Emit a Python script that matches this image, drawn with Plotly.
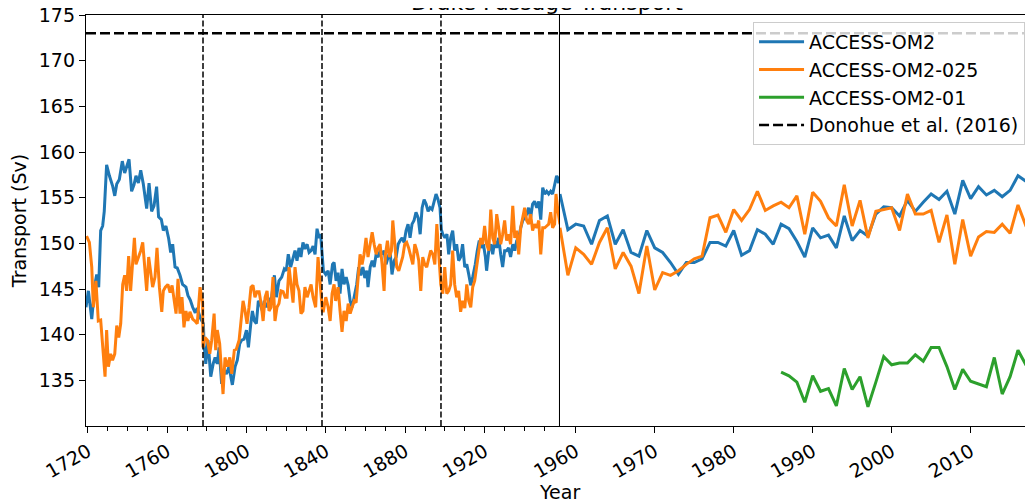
import plotly.graph_objects as go

# ---------------- data ----------------
# Spin-up cycles (4 x 60 yr), drawn on a compressed time axis (1719-1958)
om2_spin_years = [
    1719.0, 1720.2, 1721.9, 1723.5, 1724.4, 1725.4, 1726.4, 1727.4, 1728.2, 1729.4, 1730.8, 1732.4,
    1733.5, 1734.5, 1735.8, 1737.3, 1738.5, 1740.7, 1742.0, 1743.2, 1744.2, 1745.4, 1746.6, 1747.9,
    1749.6, 1750.8, 1752.1, 1753.3, 1754.6, 1755.6, 1757.0, 1758.0, 1759.3, 1760.7, 1761.7, 1762.7,
    1763.9, 1765.0, 1766.4, 1767.7, 1769.4, 1770.4, 1771.6, 1772.8, 1774.1, 1775.1, 1776.5, 1778.2,
    1778.5, 1779.4, 1780.5, 1781.9, 1783.1, 1784.1, 1785.2, 1786.1, 1787.4, 1788.6, 1789.8, 1791.1,
    1792.8, 1794.2, 1795.3, 1796.5, 1797.5, 1798.7, 1799.9, 1800.9, 1802.1, 1802.9, 1803.9, 1804.9,
    1805.9, 1806.9, 1807.9, 1808.9, 1810.0, 1811.3, 1812.6, 1814.0, 1815.0, 1816.3, 1817.7, 1819.0,
    1820.0, 1821.0, 1822.2, 1823.4, 1824.4, 1825.4, 1826.4, 1827.4, 1828.4, 1829.4, 1830.5, 1831.5,
    1832.5, 1833.5, 1834.5, 1835.5, 1836.5, 1837.3, 1838.2,
    1838.7, 1839.9, 1841.1, 1842.1, 1843.3, 1844.1, 1845.1, 1846.1, 1847.1, 1848.1, 1849.1, 1850.2,
    1851.2, 1852.2, 1853.2, 1854.2, 1855.5, 1856.5, 1857.5, 1858.6, 1859.6, 1860.6, 1861.2, 1862.3,
    1863.3, 1864.3, 1865.3, 1866.3, 1867.3, 1868.3, 1869.3, 1870.3, 1871.3, 1872.3, 1873.3, 1874.4,
    1875.4, 1876.4, 1877.4, 1878.4, 1879.4, 1880.4, 1881.4, 1882.4, 1883.4, 1884.4, 1885.4, 1886.5,
    1887.5, 1888.5, 1889.5, 1890.5, 1891.5, 1892.5, 1893.5, 1894.5, 1895.5, 1896.5, 1897.5, 1898.2,
    1898.9, 1900.0, 1901.0, 1901.9, 1902.9, 1903.9, 1904.9, 1905.9, 1906.9, 1907.9, 1908.9, 1910.0,
    1911.0, 1912.0, 1913.0, 1914.0, 1915.3, 1916.3, 1917.3, 1918.4, 1919.4, 1920.4, 1921.0, 1922.1,
    1923.1, 1924.1, 1925.1, 1926.1, 1927.1, 1928.1, 1929.1, 1930.1, 1931.1, 1932.1, 1933.1, 1934.2,
    1935.2, 1936.2, 1937.2, 1938.2, 1939.2, 1940.2, 1941.2, 1942.2, 1943.2, 1944.2, 1945.2, 1946.3,
    1947.3, 1948.3, 1949.3, 1950.3, 1951.3, 1952.3, 1953.3, 1954.3, 1955.3, 1956.3, 1957.3, 1958.0,
]
om2_spin_vals = [
    143.0, 144.8, 141.7, 145.5, 146.6, 145.2, 151.4, 151.9, 153.5, 158.6, 157.4, 156.3,
    155.2, 156.5, 157.0, 159.0, 157.7, 159.2, 155.7, 156.4, 157.4, 156.6, 158.0, 156.5,
    153.8, 156.6, 153.5, 154.1, 156.2, 152.9, 152.6, 151.4, 151.9, 150.5, 149.0, 149.9,
    147.4, 147.3, 146.5, 145.5, 145.2, 144.3, 143.8, 143.0, 142.4, 142.9, 141.9, 141.2,
    139.0, 136.8, 139.4, 135.4, 136.8, 137.5, 136.8, 138.6, 134.6, 136.1, 135.7, 136.5,
    134.5, 136.5, 137.2, 139.0, 139.4, 139.5, 140.5, 138.6, 141.2, 142.6, 141.5, 141.2,
    143.7, 143.4, 142.6, 143.7, 143.0, 143.7, 144.1, 146.5, 144.1, 145.9, 146.3, 147.2,
    147.0, 148.8, 147.4, 148.5, 149.2, 148.1, 149.5, 148.5, 150.1, 149.4, 149.9, 149.0,
    149.2, 149.7, 148.8, 151.6, 150.6, 151.0, 148.8,
    147.0, 146.6, 147.0, 145.5, 147.7, 147.9, 145.9, 146.8, 144.5, 147.2, 145.5, 146.3,
    145.4, 143.7, 143.0, 144.1, 145.5, 147.4, 146.5, 147.4, 146.2, 147.0, 145.2, 147.4,
    148.1, 147.4, 148.8, 148.5, 149.2, 148.8, 149.2, 147.7, 148.5, 149.2, 146.6, 148.1,
    148.5, 149.9, 150.3, 150.6, 150.1, 151.4, 152.1, 150.6, 152.1, 152.5, 153.4, 152.8,
    151.0, 153.9, 154.8, 154.3, 153.5, 153.9, 153.7, 154.6, 155.4, 154.8, 153.9, 151.5,
    151.0, 150.6, 151.0, 148.8, 150.6, 151.4, 149.2, 149.9, 148.1, 148.5, 149.9, 147.4,
    147.7, 146.6, 145.4, 146.3, 147.7, 149.2, 150.3, 149.5, 149.9, 148.5, 147.0, 149.2,
    149.9, 148.8, 150.3, 149.5, 150.6, 148.8, 147.4, 149.2, 149.2, 149.5, 148.5, 149.9,
    149.2, 150.3, 150.6, 151.7, 152.5, 152.8, 153.2, 153.9, 152.8, 154.3, 154.6, 153.9,
    154.6, 152.6, 156.1, 155.4, 155.7, 155.4, 155.7, 155.4, 156.3, 157.4, 156.6, 157.3,
]

om2025_spin_years = [
    1719.3, 1720.7, 1721.9, 1722.7, 1724.0, 1725.2, 1726.4, 1727.4, 1728.6, 1729.4, 1730.3, 1731.4,
    1732.4, 1733.5, 1734.5, 1735.5, 1736.5, 1737.5, 1738.5, 1739.5, 1740.5, 1741.5, 1742.5, 1743.4,
    1744.2, 1745.6, 1746.6, 1747.6, 1748.7, 1749.6, 1750.6, 1751.6, 1752.6, 1753.8, 1754.8, 1756.0,
    1757.2, 1758.0, 1759.0, 1760.3, 1761.4, 1762.4, 1763.4, 1764.4, 1765.4, 1766.4, 1767.4, 1768.4,
    1769.4, 1770.4, 1771.4, 1772.8, 1774.0, 1775.1, 1776.5, 1777.8,
    1778.0, 1779.0, 1780.2, 1781.4, 1782.4, 1783.6, 1784.4, 1785.2, 1786.4, 1787.4, 1788.1, 1789.1,
    1790.3, 1791.5, 1792.5, 1793.8, 1794.8, 1796.2, 1797.2, 1798.2, 1799.2, 1800.2, 1801.2, 1802.2,
    1803.2, 1804.2, 1805.2, 1806.3, 1807.3, 1808.3, 1809.3, 1810.3, 1811.3, 1812.3, 1813.3, 1814.3,
    1815.3, 1816.3, 1817.3, 1818.4, 1819.4, 1820.4, 1821.4, 1822.4, 1823.4, 1824.4, 1825.4, 1826.4,
    1827.4, 1828.4, 1829.4, 1830.5, 1831.5, 1832.5, 1833.5, 1834.8, 1836.0, 1837.0, 1838.2,
    1838.7, 1839.9, 1841.1, 1842.1, 1843.1, 1844.1, 1844.9, 1846.1, 1847.1, 1848.1, 1849.1, 1850.2,
    1851.2, 1852.2, 1853.2, 1854.2, 1855.2, 1856.2, 1857.2, 1858.2, 1859.2, 1860.2, 1861.2, 1862.3,
    1863.3, 1864.3, 1865.3, 1866.3, 1867.3, 1868.3, 1869.3, 1870.0, 1871.0, 1872.0, 1873.0, 1873.7,
    1874.7, 1875.7, 1876.7, 1877.7, 1878.7, 1879.7, 1880.7, 1881.7, 1882.8, 1883.8, 1884.8, 1885.8,
    1886.8, 1887.8, 1888.8, 1889.8, 1890.8, 1891.8, 1892.8, 1893.9, 1894.9, 1895.9, 1896.9, 1897.9,
    1898.9, 1899.9, 1900.9, 1901.9, 1902.9, 1903.9, 1904.9, 1905.9, 1906.9, 1907.9, 1908.9, 1910.0,
    1911.0, 1912.0, 1913.0, 1914.0, 1915.0, 1916.0, 1917.0, 1918.0, 1919.0, 1920.0, 1921.0, 1922.1,
    1923.1, 1924.1, 1925.1, 1926.1, 1927.1, 1928.1, 1929.1, 1930.1, 1931.1, 1932.1, 1933.1, 1934.2,
    1935.2, 1936.2, 1937.2, 1938.2, 1939.2, 1940.2, 1941.2, 1942.2, 1943.2, 1944.2, 1945.2, 1946.3,
    1947.3, 1948.3, 1949.3, 1950.3, 1951.3, 1952.3, 1953.3, 1954.3, 1955.3, 1956.0, 1957.0, 1958.0,
]
om2025_spin_vals = [
    150.8, 150.1, 147.4, 143.0, 145.9, 141.5, 141.6, 139.0, 135.4, 140.5, 136.5, 137.9,
    137.2, 137.9, 141.0, 139.7, 141.2, 145.5, 146.5, 144.8, 148.6, 144.8, 148.5, 150.6,
    147.7, 148.5, 149.2, 150.1, 147.4, 144.8, 148.5, 146.6, 145.2, 146.3, 149.5, 145.2,
    142.5, 144.8, 145.2, 145.5, 144.6, 145.4, 144.1, 142.3, 146.1, 142.3, 144.1, 140.8,
    142.6, 141.5, 142.5, 141.7, 141.5, 141.2, 145.2, 143.5,
    138.6, 139.7, 139.4, 137.9, 139.4, 142.3, 138.3, 140.5, 139.0, 136.1, 133.5, 137.5,
    136.5, 137.5, 135.7, 138.3, 138.4, 139.4, 141.9, 143.7, 142.6, 141.2, 143.0, 145.2,
    145.4, 144.1, 144.7, 144.7, 143.4, 141.5, 144.1, 144.8, 142.6, 143.0, 146.3, 141.5,
    143.0, 143.4, 144.8, 144.7, 144.1, 144.1, 147.4, 145.5, 143.5, 147.4, 145.5, 144.8,
    142.3, 142.6, 145.2, 144.1, 144.7, 145.5, 144.1, 143.0, 148.5, 145.5, 142.6,
    142.6, 144.1, 143.0, 141.5, 144.5, 145.5, 143.7, 145.2, 142.6, 140.3, 142.6, 141.5,
    143.4, 142.3, 143.0, 143.7, 143.5, 145.9, 148.8, 147.7, 148.8, 150.6, 148.5, 149.9,
    151.2, 149.9, 148.8, 149.5, 149.9, 147.7, 144.8, 148.8, 150.3, 148.5, 149.2, 152.5,
    150.3, 147.4, 147.0, 147.7, 148.5, 149.9, 150.1, 149.5, 148.5, 147.7, 149.9, 149.2,
    148.1, 144.8, 148.5, 147.7, 147.4, 148.5, 149.2, 148.8, 147.7, 152.1, 149.2, 145.5,
    144.5, 147.4, 144.5, 144.8, 145.5, 149.2, 145.5, 144.1, 144.8, 142.5, 143.7, 142.9,
    145.5, 143.7, 143.0, 145.2, 145.9, 147.4, 149.2, 150.6, 149.9, 151.9, 149.9, 149.2,
    153.7, 150.6, 149.9, 153.2, 151.7, 149.9, 151.0, 152.5, 150.3, 151.0, 149.9, 154.1,
    150.6, 151.4, 148.8, 151.7, 152.8, 153.9, 152.5, 152.1, 153.2, 151.4, 152.1, 151.7,
    152.5, 148.8, 151.7, 151.7, 151.9, 152.1, 153.4, 151.7, 152.1, 155.4, 153.5, 152.1,
]

# Final IAF cycle (1958-2018), normal time axis
iaf_years = list(range(1958, 2019))
om2_iaf_vals = [
    155.4, 151.5, 152.1, 151.9, 149.9, 152.5, 153.0, 149.9, 151.5, 149.0, 148.6, 151.4,
    149.5, 149.0, 147.9, 146.6, 147.9, 147.9, 148.3, 150.1, 150.1, 149.7, 151.4, 148.7,
    149.2, 151.5, 151.0, 149.9, 152.1, 151.6, 150.2, 148.5, 151.7, 150.6, 150.9, 149.5,
    153.0, 150.3, 151.4, 150.8, 153.2, 154.0, 153.9, 153.0, 154.7, 153.5, 154.5, 155.4,
    154.8, 155.7, 153.2, 156.9, 154.9, 156.2, 155.3, 155.8, 155.1, 155.8, 157.4, 156.8,
    155.2,
]
om2025_iaf_vals = [
    151.7, 146.5, 149.5, 148.8, 147.7, 150.1, 151.7, 147.2, 149.0, 147.5, 144.5, 149.7,
    144.9, 146.8, 146.5, 147.0, 147.7, 148.3, 148.6, 152.8, 153.1, 151.2, 153.7, 152.5,
    153.7, 155.7, 153.6, 154.1, 154.5, 153.9, 155.2, 151.0, 155.6, 154.6, 152.8, 151.9,
    156.4, 151.9, 154.7, 150.6, 153.5, 153.7, 153.9, 151.4, 155.4, 153.2, 153.2, 153.6,
    150.1, 153.1, 147.7, 152.6, 148.6, 150.7, 151.3, 151.2, 152.1, 151.1, 154.2, 151.9,
    151.5,
]
om201_years = list(range(1986, 2019))
om201_vals = [
    135.9, 135.5, 134.8, 132.6, 135.5, 133.8, 134.1, 132.2, 136.3, 134.0, 135.4, 132.1,
    134.8, 137.6, 136.7, 136.9, 136.9, 137.8, 137.1, 138.6, 138.6, 136.5, 134.0, 136.2,
    134.9, 134.6, 134.3, 137.5, 133.5, 135.4, 138.3, 136.7, 136.2,
]

donohue_transport = 173.0
cycle_bounds = [1778, 1838, 1898]
spin_end = 1958
spin_range = [1719, 1958]
iaf_range = [1958, 2017.9]
y_range = [130, 175]
y_ticks = [135, 140, 145, 150, 155, 160, 165, 170, 175]

names = ["ACCESS-OM2", "ACCESS-OM2-025", "ACCESS-OM2-01", "Donohue et al. (2016)"]
colors = ["#1f77b4", "#ff7f0e", "#2ca02c", "black"]

FONT = "DejaVu Sans"
FS = 19
LW = 3

fig = go.Figure()

# ACCESS-OM2
fig.add_trace(go.Scatter(x=om2_spin_years, y=om2_spin_vals, mode="lines", name=names[0],
                         legendgroup="g0", line=dict(color=colors[0], width=LW),
                         xaxis="x", yaxis="y"))
fig.add_trace(go.Scatter(x=iaf_years, y=om2_iaf_vals, mode="lines", name=names[0],
                         legendgroup="g0", showlegend=False,
                         line=dict(color=colors[0], width=LW), xaxis="x2", yaxis="y"))
# ACCESS-OM2-025
fig.add_trace(go.Scatter(x=om2025_spin_years, y=om2025_spin_vals, mode="lines", name=names[1],
                         legendgroup="g1", line=dict(color=colors[1], width=LW),
                         xaxis="x", yaxis="y"))
fig.add_trace(go.Scatter(x=iaf_years, y=om2025_iaf_vals, mode="lines", name=names[1],
                         legendgroup="g1", showlegend=False,
                         line=dict(color=colors[1], width=LW), xaxis="x2", yaxis="y"))
# ACCESS-OM2-01
fig.add_trace(go.Scatter(x=om201_years, y=om201_vals, mode="lines", name=names[2],
                         legendgroup="g2", line=dict(color=colors[2], width=LW),
                         xaxis="x2", yaxis="y"))
# Donohue et al. (2016) observational estimate
fig.add_trace(go.Scatter(x=spin_range, y=[donohue_transport] * 2, mode="lines", name=names[3],
                         legendgroup="g3", line=dict(color=colors[3], width=2.5, dash="10px,4px"),
                         xaxis="x", yaxis="y"))
fig.add_trace(go.Scatter(x=[iaf_range[0], 2020], y=[donohue_transport] * 2, mode="lines",
                         name=names[3], legendgroup="g3", showlegend=False,
                         line=dict(color=colors[3], width=2.5, dash="10px,4px"),
                         xaxis="x2", yaxis="y"))

shapes = []
for b in cycle_bounds:
    shapes.append(dict(type="line", xref="x", yref="paper", x0=b, x1=b, y0=0, y1=1,
                       line=dict(color="black", width=1.5, dash="6px,2.5px"), layer="above"))
shapes.append(dict(type="line", xref="x", yref="paper", x0=spin_end, x1=spin_end, y0=0, y1=1,
                   line=dict(color="black", width=2), layer="above"))

xcommon = dict(showgrid=False, zeroline=False, showline=True, linecolor="black", linewidth=1.3,
               mirror=True, ticks="outside", ticklen=6, tickwidth=1.3, tickcolor="black",
               tickangle=-30, tickfont=dict(family=FONT, size=FS, color="black"),
               anchor="y", automargin=False, ticklabeloverflow="allow")

fig.update_layout(
    width=1025, height=495,
    margin=dict(l=78, r=0, t=7, b=77),
    paper_bgcolor="white", plot_bgcolor="white",
    font=dict(family=FONT, size=FS, color="black"),
    showlegend=True,
    xaxis=dict(domain=[0, 0.5005], range=spin_range, tickmode="linear", tick0=1720, dtick=40,
               minor=dict(tick0=1720, dtick=10, ticks="outside", ticklen=3.5, tickwidth=1,
                          tickcolor="black", showgrid=False),
               **xcommon),
    xaxis2=dict(domain=[0.5005, 1], range=iaf_range, tickmode="linear", tick0=1960, dtick=10,
                **xcommon),
    yaxis=dict(range=y_range, tickmode="array", tickvals=y_ticks, showgrid=False, zeroline=False,
               showline=True, linecolor="black", linewidth=1.3, ticks="outside", ticklen=6,
               tickwidth=1.3, tickcolor="black", anchor="x", automargin=False,
               ticklabeloverflow="allow",
               tickfont=dict(family=FONT, size=FS, color="black"),
               title=dict(text="Transport (Sv)", font=dict(family=FONT, size=FS), standoff=8)),
    legend=dict(x=0.9916, y=0.983, xanchor="right", yanchor="top",
                bgcolor="rgba(255,255,255,0.8)", bordercolor="#cccccc", borderwidth=1,
                font=dict(family=FONT, size=FS, color="black"),
                traceorder="grouped", tracegroupgap=0, itemwidth=45),
    shapes=shapes,
    annotations=[
        dict(text="Year", xref="paper", yref="paper", x=0.5, y=-0.1606, xanchor="center",
             yanchor="middle", showarrow=False, font=dict(family=FONT, size=FS)),
        dict(text="Drake Passage Transport", xref="paper", yref="paper", x=0.487, y=1,
             xanchor="center", yanchor="bottom", yshift=-2, showarrow=False,
             font=dict(family=FONT, size=22)),
    ],
)

fig.write_html("out.html")
